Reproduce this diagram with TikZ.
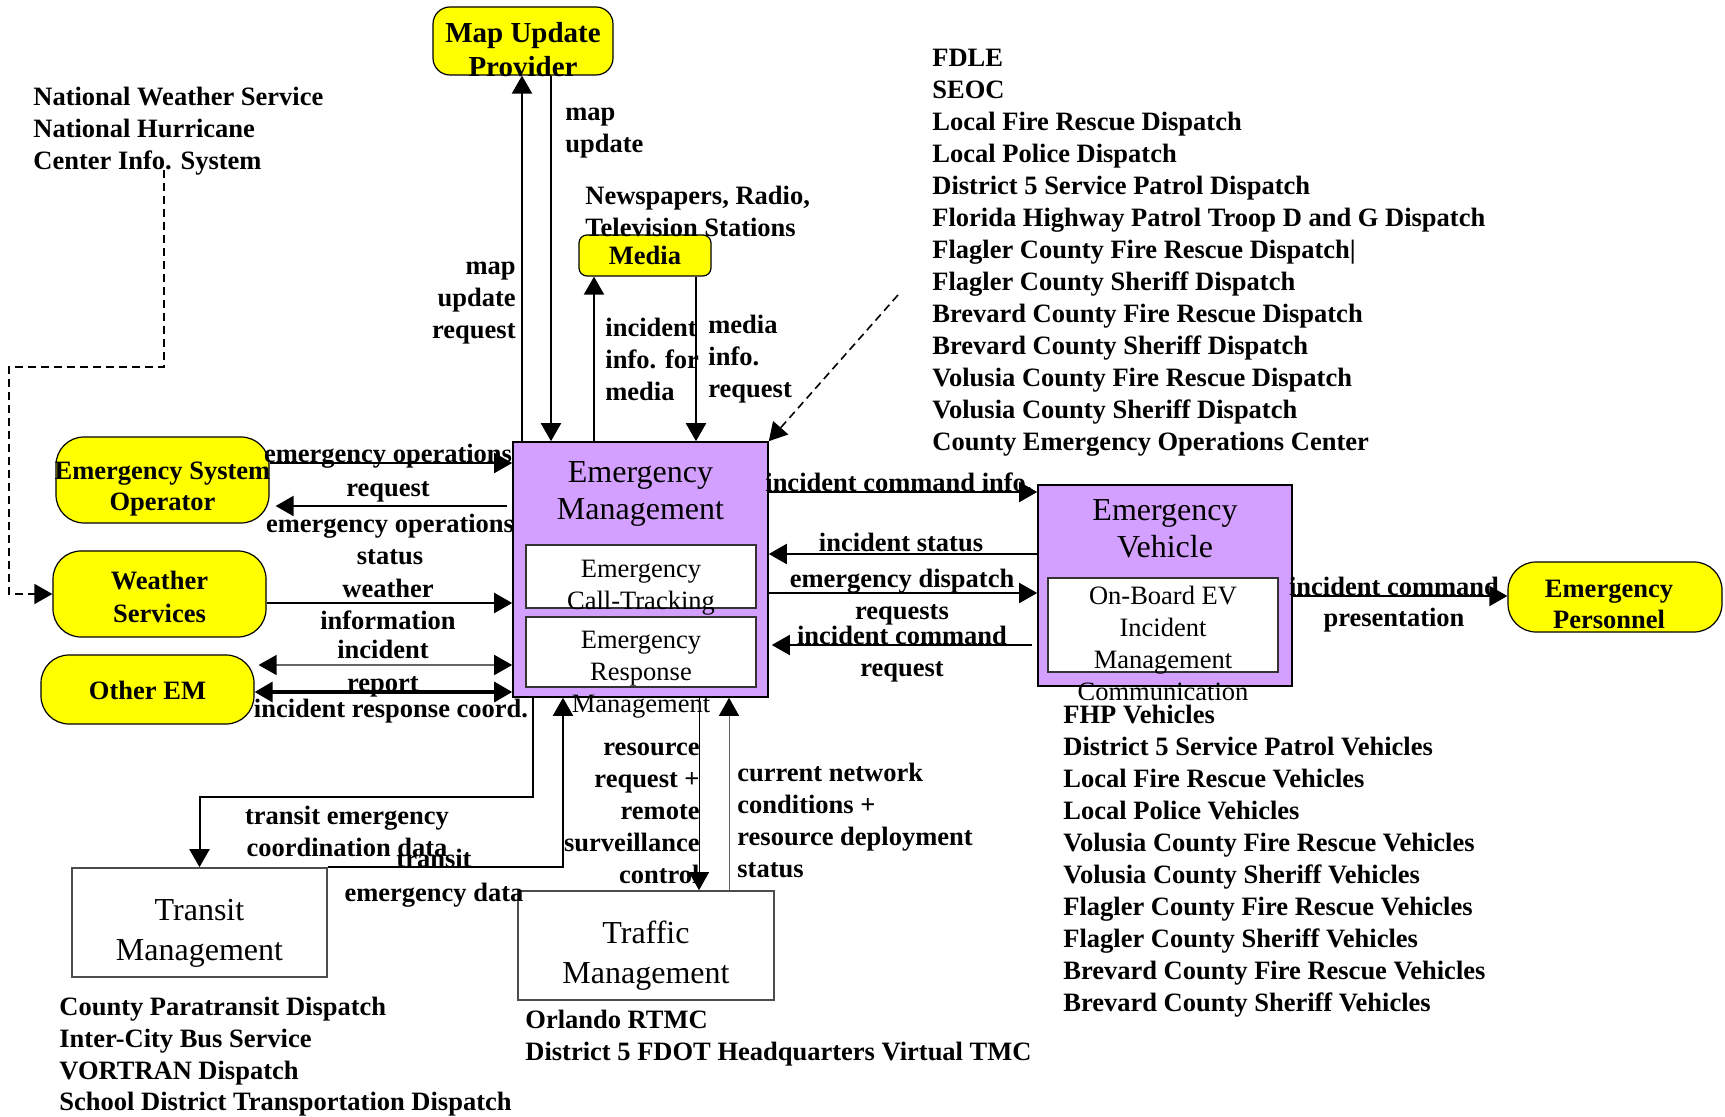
\documentclass[tikz,border=0pt]{standalone}
\usepackage{fontspec}
\setmainfont{Liberation Serif}
\usetikzlibrary{arrows.meta,calc}
\definecolor{ylw}{RGB}{255,255,0}
\definecolor{prp}{RGB}{212,160,255}
\begin{document}
\begin{tikzpicture}[x=0.5pt,y=-0.5pt,
  bs/.style={font=\fontsize{13.25}{#1}\selectfont\bfseries, inner sep=0pt},
  bs/.default=16,
  ybox/.style={draw=black, line width=0.6pt, fill=ylw, rounded corners=14pt, inner sep=0pt},
  pbox/.style={draw=black, line width=0.8pt, fill=prp, inner sep=0pt},
  wbox/.style={draw=black!80, line width=0.8pt, fill=white, inner sep=0pt},
  big/.style={font=\fontsize{16}{#1}\selectfont, inner sep=0pt, align=center},
  mid/.style={font=\fontsize{13.25}{16}\selectfont, inner sep=0pt, align=center},
  tip/.tip={Triangle[length=9pt,width=10pt,color=black]},
  conn/.style={line width=1pt, -tip},
  dconn/.style={line width=1pt, tip-tip},
  thinconn/.style={line width=0.5pt, -tip},
  dashconn/.style={line width=0.8pt, dash pattern=on 4pt off 2.5pt, -tip}
]
\useasboundingbox (0,0) rectangle (1725,1117);

% ---------- boxes ----------
\node[ybox, rounded corners=8.5pt, minimum width=90pt, minimum height=34pt] (mup) at (523,41) {};
\node[ybox, rounded corners=4pt, minimum width=66pt, minimum height=20.5pt, bs] (media) at (645,255.5) {Media};
\node[ybox, minimum width=106.5pt, minimum height=43pt] (eso) at (162.5,480) {};
\node[ybox, minimum width=106.5pt, minimum height=43pt] (ws) at (159.5,594) {};
\node[ybox, minimum width=106.5pt, minimum height=34.5pt] (oem) at (147.5,689.5) {};
\node[ybox, minimum width=107pt, minimum height=35pt] (ep) at (1615,597) {};

\node[pbox, minimum width=127.5pt, minimum height=127.5pt] (em) at (640.5,569.5) {};
\node[wbox, minimum width=115pt, minimum height=31.5pt] (emct) at (641,576.5) {};
\node[wbox, minimum width=115pt, minimum height=35pt] (emrm) at (641,652) {};

\node[pbox, minimum width=127pt, minimum height=100.5pt] (ev) at (1165,585.5) {};
\node[wbox, minimum width=115pt, minimum height=47pt] (evin) at (1163,625) {};

\node[wbox, draw=black!70, minimum width=127.5pt, minimum height=54.5pt] (tm) at (199.5,922.5) {};
\node[wbox, draw=black!70, minimum width=128pt, minimum height=54.5pt] (trm) at (646,945.5) {};

% ---------- box texts ----------
\node[font=\fontsize{14.5}{17}\selectfont\bfseries, inner sep=0pt, align=center] (mupT) at (523,50) {Map Update\\Provider};
\node[bs=15.5, align=center] (esoT) at (162.5,489.5) {Emergency System\\Operator};
\node[bs=16.5, align=center] (wsT) at (159.5,596.5) {Weather\\Services};
\node[bs] (oemT) at (147.5,690) {Other EM};
\node[bs=15.5, align=center] (epT) at (1609,604.5) {Emergency\\Personnel};
\node[big=18.5] (emT) at (640.5,493.5) {Emergency\\Management};
\node[mid] (emctT) at (641,588) {Emergency\\Call-Tracking};
\node[mid] (emrmT) at (641,674.5) {Emergency\\Response\\Management};
\node[big=18.5] (evT) at (1165,528.5) {Emergency\\Vehicle};
\node[mid] (evinT) at (1163,643.5) {On-Board EV\\Incident\\Management\\Communication};
\node[big=20] (tmT) at (199.5,933) {Transit\\Management};
\node[big=20] (trmT) at (646,956) {Traffic\\Management};

% ---------- free texts ----------
\node[bs, anchor=west, align=left] (nws) at (33,131) {National Weather Service\\National Hurricane\\Center Info. System};
\coordinate (nwsc) at (164,170);
\node[bs, anchor=west, align=left] (news) at (585,211) {Newspapers, Radio,\\Television Stations};
\node[bs, anchor=west, align=left] (emlist) at (932,253) {FDLE\\SEOC\\Local Fire Rescue Dispatch\\Local Police Dispatch\\District 5 Service Patrol Dispatch\\Florida Highway Patrol Troop D and G Dispatch\\Flagler County Fire Rescue Dispatch|\\Flagler County Sheriff Dispatch\\Brevard County Fire Rescue Dispatch\\Brevard County Sheriff Dispatch\\Volusia County Fire Rescue Dispatch\\Volusia County Sheriff Dispatch\\County Emergency Operations Center};
\coordinate (dstart) at (898,295);
\node[bs, anchor=west, align=left] (evlist) at (1063,861) {FHP Vehicles\\District 5 Service Patrol Vehicles\\Local Fire Rescue Vehicles\\Local Police Vehicles\\Volusia County Fire Rescue Vehicles\\Volusia County Sheriff Vehicles\\Flagler County Fire Rescue Vehicles\\Flagler County Sheriff Vehicles\\Brevard County Fire Rescue Vehicles\\Brevard County Sheriff Vehicles};
\node[bs=15.8, anchor=west, align=left] (tmlist) at (59,1057) {County Paratransit Dispatch\\Inter-City Bus Service\\VORTRAN Dispatch\\School District Transportation Dispatch};
\node[bs, anchor=west, align=left] (trmlist) at (525,1038.5) {Orlando RTMC\\District 5 FDOT Headquarters Virtual TMC};

% ---------- connectors ----------
\draw[conn] (em.north -| 522,0) -- (mup.south -| 522,0);
\draw[conn] (mup.south -| 551,0) -- (em.north -| 551,0);
\draw[conn] (em.north -| 594,0) -- (media.south -| 594,0);
\draw[conn] (media.south -| 696,0) -- (em.north -| 696,0);
\draw[dashconn] (dstart) -- (em.north east);
\draw[dashconn] (nwsc) |- (9,367) |- (ws.west);

\draw[conn] (eso.east |- 0,463) -- (em.west |- 0,463);
\draw[conn, shorten <=2.5pt, shorten >=3pt] (em.west |- 0,506) -- (eso.east |- 0,506);
\draw[conn] (ws.east |- 0,603) -- (em.west |- 0,603);
\draw[dconn, line width=0.8pt, draw=black!60, shorten <=2pt] (oem.east |- 0,665) -- (em.west |- 0,665);
\draw[dconn, line width=1.6pt] (oem.east |- 0,692) -- (em.west |- 0,692);

\draw[conn] (em.east |- 0,492) -- (ev.west |- 0,492);
\draw[conn] (ev.west |- 0,554) -- (em.east |- 0,554);
\draw[conn] (em.east |- 0,593) -- (ev.west |- 0,593);
\draw[conn, shorten <=2.5pt, shorten >=1.5pt] (ev.west |- 0,645) -- (em.east |- 0,645);
\draw[conn] (ev.east |- 0,596) -- (ep.west |- 0,596);

\draw[conn] (em.south -| 533,0) |- (tm.north |- 0,797) -- (tm.north);
\draw[conn] (tm.north east) -| (em.south -| 563,0);
\draw[thinconn] (em.south -| 699,0) -- (trm.north -| 699,0);
\draw[thinconn, draw=black!60] (trm.north -| 729,0) -- (em.south -| 729,0);

% ---------- connector labels ----------
\node[bs, anchor=east, align=right] (l1) at (516,303) {map\\update\\request};
\node[bs, anchor=west, align=left] (l2) at (565,133) {map\\update};
\node[bs, anchor=west, align=left] (l4) at (605,359) {incident\\info. for\\media};
\node[bs, anchor=west, align=left] (l5) at (708,359) {media\\info.\\request};
\node[bs=17, align=center] (l7) at (388,473) {emergency operations\\request};
\node[bs, align=center] (l8) at (390,539) {emergency operations\\status};
\node[bs, align=center] (l9) at (388,604) {weather\\information};
\node[bs=16.5, align=center] (l10) at (383,668.5) {incident\\report};
\node[bs] (l11) at (391,711) {incident response coord.};
\node[bs] (l12) at (899,482) {incident command info.};
\node[bs] (l13) at (901,542) {incident status};
\node[bs, align=center] (l14) at (902,597) {emergency dispatch\\requests};
\node[bs, align=center] (l15) at (902,654) {incident command\\request};
\node[bs=15.5, align=center] (l16) at (1394,604.5) {incident command\\presentation};
\node[bs, align=center] (l17) at (347,831) {transit emergency\\coordination data};
\node[bs=17, align=center] (l18) at (434,878) {transit\\emergency data};
\node[bs, anchor=east, align=right] (l19) at (700,813) {resource\\request +\\remote\\surveillance\\control};
\node[bs, anchor=west, align=left] (l20) at (737,820) {current network\\conditions +\\resource deployment\\status};
\end{tikzpicture}
\end{document}
